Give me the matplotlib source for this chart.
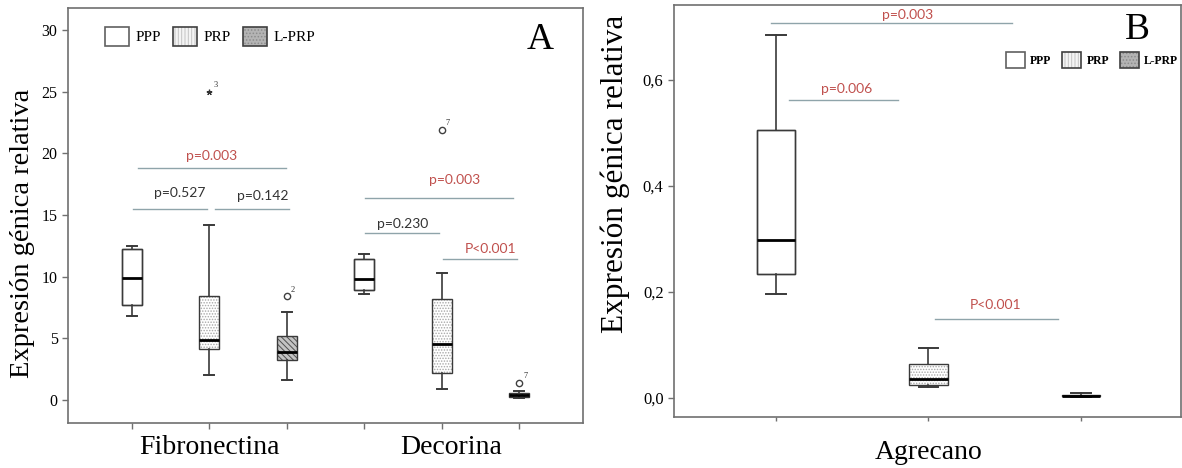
import matplotlib
matplotlib.use("Agg")
import matplotlib.pyplot as plt
from matplotlib.patches import Patch, PathPatch
from matplotlib.legend_handler import HandlerTuple
from matplotlib.transforms import blended_transform_factory

plt.rcParams["hatch.linewidth"] = 0.7
SERIF = ["Liberation Serif", "DejaVu Serif"]
SANS = ["Lato", "DejaVu Sans"]

# ---------------- data ----------------
groups = ["PPP", "PRP", "L-PRP"]

# Panel A: Fibronectina and Decorina (PPP, PRP, L-PRP each)
genes_a = ["Fibronectina", "Decorina"]
a_whislo = [6.8, 2.0, 1.6, 8.6, 0.9, 0.15]
a_q1 = [7.7, 4.1, 3.2, 8.9, 2.2, 0.25]
a_med = [9.9, 4.9, 3.9, 9.8, 4.5, 0.4]
a_q3 = [12.2, 8.4, 5.2, 11.4, 8.2, 0.6]
a_whishi = [12.5, 14.2, 7.1, 11.8, 10.3, 0.7]
a_fliers = [[], [25.0], [8.4], [], [21.9], [1.4]]
a_flier_ids = [[], ["3"], ["2"], [], ["7"], ["7"]]
a_flier_kind = [None, "*", "o", None, "o", "o"]

# Panel B: Agrecano
genes_b = ["Agrecano"]
b_whislo = [0.196, 0.021, 0.002]
b_q1 = [0.234, 0.025, 0.003]
b_med = [0.298, 0.036, 0.004]
b_q3 = [0.506, 0.064, 0.006]
b_whishi = [0.685, 0.094, 0.009]

# significance brackets: (x0, x1, y_line, label, is_red, text_x, text_y)
a_pvals = [
    (0.08, 1.99, 18.8, "p=0.003", True, 1.03, 19.8),
    (0.01, 0.97, 15.5, "p=0.527", False, 0.62, 16.8),
    (1.07, 2.03, 15.5, "p=0.142", False, 1.69, 16.5),
    (3.01, 4.92, 16.4, "p=0.003", True, 4.17, 17.8),
    (3.01, 3.97, 13.5, "p=0.230", False, 3.50, 14.3),
    (4.02, 4.97, 11.4, "P<0.001", True, 4.63, 12.2),
]
b_pvals = [
    (-0.03, 1.55, 0.7075, "p=0.003", True, 0.86, 0.723),
    (0.085, 0.80, 0.562, "p=0.006", True, 0.465, 0.583),
    (1.04, 1.85, 0.149, "P<0.001", True, 1.44, 0.175),
]

# ---------------- styles ----------------
EDGE = "#3a3a3a"
SPINE = "#707070"
LINE_P = "#8fa4aa"
RED = "#c0504d"
styles = {
    "PPP": dict(face="white", hatch=None, hcol=None),
    "PRP": dict(face="white", hatch="......", hcol="#a8a8a8"),
    "L-PRP": dict(face="#c4c4c4", hatch="\\\\\\\\\\\\", hcol="#505050"),
}


def draw_boxes(ax, positions, whislo, q1, med, q3, whishi, width):
    stats = []
    for i in range(len(positions)):
        stats.append(dict(whislo=whislo[i], q1=q1[i], med=med[i], q3=q3[i],
                          whishi=whishi[i], fliers=[]))
    bp = ax.bxp(stats, positions=positions, widths=width, patch_artist=True,
                showfliers=False, capwidths=width * 0.5,
                boxprops=dict(linewidth=1.0),
                whiskerprops=dict(color=EDGE, linewidth=1.2),
                capprops=dict(color=EDGE, linewidth=1.4),
                medianprops=dict(color="black", linewidth=2.0))
    for i, box in enumerate(bp["boxes"]):
        st = styles[groups[i % 3]]
        box.set_facecolor(st["face"])
        if st["hatch"]:
            box.set_hatch(st["hatch"])
            box.set_edgecolor(st["hcol"])
            box.set_linewidth(0)
        else:
            box.set_edgecolor(EDGE)
        outline = PathPatch(box.get_path(), transform=box.get_transform(),
                            fill=False, edgecolor=EDGE, linewidth=1.0, zorder=box.get_zorder() + 0.1)
        ax.add_patch(outline)
    for m in bp["medians"]:
        m.set_zorder(5)
    return bp


def draw_pvals(ax, pvals, fs):
    for x0, x1, y, lab, red, tx, ty in pvals:
        ax.plot([x0, x1], [y, y], color=LINE_P, linewidth=1.0, zorder=1)
        ax.text(tx, ty, lab, ha="center", va="center", fontsize=fs,
                color=RED if red else "#333333", family=SANS)


def style_axes(ax):
    for s in ax.spines.values():
        s.set_color(SPINE)
        s.set_linewidth(1.2)
    ax.tick_params(axis="both", direction="out", color=SPINE, length=4, width=1.0)


def legend_handles():
    hs = []
    for g in groups:
        if g == "PPP":
            hs.append(Patch(facecolor="white", edgecolor="#606060", linewidth=1.2))
        elif g == "PRP":
            hs.append((Patch(facecolor="#f4f4f4", edgecolor="#c4c4c4", hatch="|||||", linewidth=0),
                       Patch(fill=False, edgecolor="#404040", linewidth=1.2)))
        else:
            hs.append((Patch(facecolor="#b4b4b4", edgecolor="#8c8c8c", hatch=".....", linewidth=0),
                       Patch(fill=False, edgecolor="#404040", linewidth=1.2)))
    return hs


fig = plt.figure(figsize=(11.82, 4.68), dpi=100)

# ---------------- panel A ----------------
axA = fig.add_axes([68 / 1182, 45 / 468, 515 / 1182, 415 / 468])
posA = list(range(6))
draw_boxes(axA, posA, a_whislo, a_q1, a_med, a_q3, a_whishi, 0.26)
for i in range(6):
    for v, ident in zip(a_fliers[i], a_flier_ids[i]):
        if a_flier_kind[i] == "*":
            axA.plot(posA[i], v, marker=(5, 2, 0), markersize=4, color="#333333",
                     markeredgewidth=0.9, linestyle="none", zorder=6)
        else:
            axA.plot(posA[i], v, marker="o", markersize=4.5, markerfacecolor="white",
                     markeredgecolor="#404040", markeredgewidth=1.0, linestyle="none", zorder=6)
        axA.annotate(ident, (posA[i], v), xytext=(3, 2), textcoords="offset points",
                     fontsize=6, family=SERIF, color="#333333", va="bottom", ha="left")
draw_pvals(axA, a_pvals, 10)
axA.set_xlim(-0.827, 5.827)
axA.set_ylim(-1.87, 31.78)
axA.set_yticks([0, 5, 10, 15, 20, 25, 30])
axA.set_yticklabels(["0", "5", "10", "15", "20", "25", "30"], family=SERIF, fontsize=11.5)
axA.set_xticks(posA)
axA.set_xticklabels([])
style_axes(axA)
axA.set_ylabel("Expresión génica relativa", family=SERIF, fontsize=20.5)
axA.yaxis.set_label_coords(-0.064, 0.458)
trA = blended_transform_factory(axA.transData, axA.transAxes)
for x, g in zip([1.0, 4.12], genes_a):
    axA.text(x, -0.058, g, transform=trA, ha="center", va="center",
             family=SERIF, fontsize=20)
axA.text(0.9165, 0.923, "A", transform=axA.transAxes, ha="center", va="center",
         family=SERIF, fontsize=27)
axA.legend(legend_handles(), groups, loc="upper left",
           bbox_to_anchor=(0.072, 0.955), frameon=False, ncol=3,
           prop=dict(family=SERIF, size=11), handlelength=1.55, handleheight=1.55,
           handletextpad=0.45, columnspacing=0.8, borderpad=0, borderaxespad=0,
           handler_map={tuple: HandlerTuple(ndivide=1, pad=0)})

# ---------------- panel B ----------------
axB = fig.add_axes([674 / 1182, 51 / 468, 507 / 1182, 412 / 468])
posB = [0, 1, 2]
draw_boxes(axB, posB, b_whislo, b_q1, b_med, b_q3, b_whishi, 0.25)
draw_pvals(axB, b_pvals, 10)
axB.set_xlim(-0.669, 2.656)
axB.set_ylim(-0.0358, 0.7415)
axB.set_yticks([0.0, 0.2, 0.4, 0.6])
axB.set_yticklabels(["0,0", "0,2", "0,4", "0,6"], family=SERIF, fontsize=12)
axB.set_xticks(posB)
axB.set_xticklabels([])
style_axes(axB)
axB.tick_params(axis="x", length=3)
axB.set_ylabel("Expresión génica relativa", family=SERIF, fontsize=22.5)
axB.yaxis.set_label_coords(-0.086, 0.59)
trB = blended_transform_factory(axB.transData, axB.transAxes)
axB.text(1.0, -0.085, genes_b[0], transform=trB, ha="center", va="center",
         family=SERIF, fontsize=20)
axB.text(0.913, 0.939, "B", transform=axB.transAxes, ha="center", va="center",
         family=SERIF, fontsize=27)
axB.legend(legend_handles(), groups, loc="upper left",
           bbox_to_anchor=(0.655, 0.885), frameon=False, ncol=3,
           prop=dict(family=SERIF, size=8.5, weight="bold"), handlelength=1.6,
           handleheight=1.6, handletextpad=0.45, columnspacing=0.9,
           borderpad=0, borderaxespad=0,
           handler_map={tuple: HandlerTuple(ndivide=1, pad=0)})

fig.savefig("out.png", dpi=100)
